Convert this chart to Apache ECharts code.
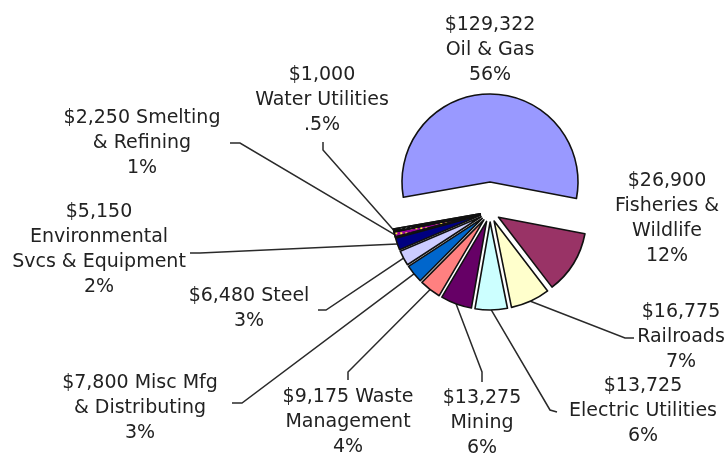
<!DOCTYPE html>
<html>
<head>
<meta charset="utf-8">
<script src="https://cdn.jsdelivr.net/npm/echarts/dist/echarts.min.js"></script>
<style>
  html, body { margin: 0; padding: 0; background: #fff; }
  #chart { width: 728px; height: 457px; }
</style>
</head>
<body>
<div id="chart"></div>
<script>
// data
const industries = ['Oil & Gas', 'Fisheries & Wildlife', 'Railroads', 'Electric Utilities', 'Mining',
  'Waste Management', 'Misc Mfg & Distributing', 'Steel', 'Environmental Svcs & Equipment',
  'Smelting & Refining', 'Water Utilities']
const amounts = [129322, 26900, 16775, 13725, 13275, 9175, 7800, 6480, 5150, 2250, 1000]
const percents = ['56%', '12%', '7%', '6%', '6%', '4%', '3%', '3%', '2%', '1%', '.5%']
// how each label is broken into lines ({v} = amount, {p} = percent)
const labelText = [
  '{v}\nOil & Gas\n{p}',
  '{v}\nFisheries &\nWildlife\n{p}',
  '{v}\nRailroads\n{p}',
  '{v}\nElectric Utilities\n{p}',
  '{v}\nMining\n{p}',
  '{v} Waste\nManagement\n{p}',
  '{v} Misc Mfg\n& Distributing\n{p}',
  '{v} Steel\n{p}',
  '{v}\nEnvironmental\nSvcs & Equipment\n{p}',
  '{v} Smelting\n& Refining\n{p}',
  '{v}\nWater Utilities\n{p}'
]

// layout / style
const colors = ['#9999ff', '#993366', '#ffffcc', '#ccffff', '#660066', '#ff8080',
  '#0066cc', '#ccccff', '#000080', '#990099', '#111111']
// dotted fills of the two thinnest slices
const decals = {
  9: { symbol: 'rect', symbolSize: 1, color: '#ffff33', dashArrayX: [[2, 3]], dashArrayY: [2, 3], rotation: 0 },
  10: { symbol: 'rect', symbolSize: 1, color: '#dddddd', dashArrayX: [[2, 3]], dashArrayY: [2, 3], rotation: 0 }
}
const bigCenter = [490, 182]   // Oil & Gas, pulled out
const restCenter = [490, 212]
const restOffset = 10
// centre of each label block
const labelPos = [
  [490, 50], [667, 219], [681, 337], [643, 411], [482, 423], [348, 422],
  [140, 408], [249, 309], [99, 250], [142, 143], [322, 100]
]
// leader line elbow + end next to the label (null = no line)
const leader = [
  null, null,
  [[625, 338], [634, 338]],
  [[550, 410], [557, 412]],
  [[482, 372], [482, 382]],
  [[348, 372], [348, 380]],
  [[242, 403], [232, 403]],
  [[326, 310], [318, 310]],
  [[200, 253], [190, 253]],
  [[240, 143], [230, 143]],
  [[323, 150], [323, 142]]
]

function fmtLabel(i) {
  return labelText[i]
    .replace('{v}', '$' + amounts[i].toLocaleString('en-US'))
    .replace('{p}', percents[i])
}

// series 0 shows only Oil & Gas, series 1 the rest
function buildData(showBig) {
  return amounts.map((v, i) => {
    const visible = (i === 0) === showBig
    if (!visible) {
      return {
        value: v, name: industries[i],
        itemStyle: { color: 'transparent', borderWidth: 0 },
        label: { show: false }, labelLine: { show: false },
        emphasis: { disabled: true }
      }
    }
    const style = { color: colors[i] }
    if (decals[i]) style.decal = decals[i]
    return {
      value: v, name: industries[i], selected: !showBig,
      itemStyle: style,
      label: { show: true, formatter: fmtLabel(i) },
      labelLine: leader[i] ? { show: true } : { show: true, lineStyle: { opacity: 0 } }
    }
  })
}

const chart = echarts.init(document.getElementById('chart'))

function placeLabel(params) {
  const i = params.dataIndex
  const c = params.seriesIndex === 0 ? bigCenter : restCenter
  const pts = params.labelLinePoints
  // selected slices carry their label along with the offset; undo it
  let ox = 0, oy = 0
  if (params.seriesIndex === 1 && pts) {
    const vx = pts[0][0] - c[0], vy = pts[0][1] - c[1]
    const len = Math.hypot(vx, vy) || 1
    ox = vx / len * restOffset
    oy = vy / len * restOffset
  }
  const r = params.labelRect
  const align = params.align || ((r.x + r.width / 2) >= c[0] ? 'left' : 'right')
  const shift = align === 'right' ? r.width / 2 : align === 'left' ? -r.width / 2 : 0
  const anchorX = r.x + r.width / 2 + shift
  const out = {
    dx: labelPos[i][0] - ox - anchorX,
    dy: labelPos[i][1] - oy - (r.y + r.height / 2),
    align: 'center'
  }
  if (leader[i] && pts) {
    out.labelLinePoints = [
      pts[0],
      [leader[i][0][0] - ox, leader[i][0][1] - oy],
      [leader[i][1][0] - ox, leader[i][1][1] - oy]
    ]
  }
  return out
}

const pieBase = {
  type: 'pie',
  radius: 88,
  startAngle: 190,
  clockwise: true,
  avoidLabelOverlap: false,
  animation: false,
  itemStyle: { borderColor: '#111', borderWidth: 1.6 },
  label: {
    position: 'outside',
    fontFamily: 'DejaVu Sans',
    fontSize: 19,
    lineHeight: 25,
    color: '#222',
    align: 'center'
  },
  labelLine: { lineStyle: { color: '#2a2a2a', width: 1.5 }, length: 10, length2: 10 },
  labelLayout: placeLabel
}

chart.setOption({
  backgroundColor: '#fff',
  series: [
    Object.assign({}, pieBase, { center: bigCenter, data: buildData(true) }),
    Object.assign({}, pieBase, {
      center: restCenter, selectedMode: 'multiple', selectedOffset: restOffset, data: buildData(false)
    })
  ]
})
</script>
</body>
</html>
